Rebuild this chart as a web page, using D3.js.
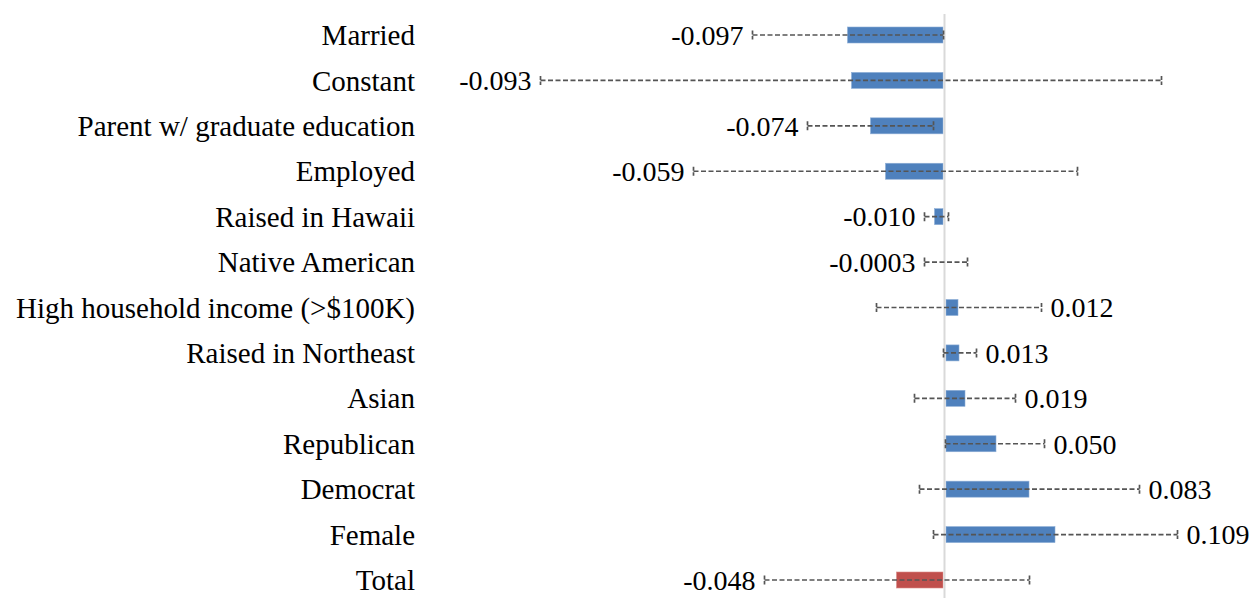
<!DOCTYPE html>
<html>
<head>
<meta charset="utf-8">
<script src="https://cdn.jsdelivr.net/npm/d3@7"></script>
<style>
  html, body { margin: 0; padding: 0; background: #fff; }
  svg { display: block; }
  text { font-family: "Liberation Serif", "Times New Roman", serif; fill: #000; }
</style>
</head>
<body>
<svg id="chart" width="1257" height="598"></svg>
<script>
// Regression coefficients with 95% confidence intervals
const categories = [
  "Married", "Constant", "Parent w/ graduate education", "Employed",
  "Raised in Hawaii", "Native American", "High household income (>$100K)",
  "Raised in Northeast", "Asian", "Republican", "Democrat", "Female", "Total"
];
const estimates = [-0.097, -0.093, -0.074, -0.059, -0.010, -0.0003, 0.012, 0.013, 0.019, 0.050, 0.083, 0.109, -0.048];
const valueLabels = ["-0.097", "-0.093", "-0.074", "-0.059", "-0.010", "-0.0003", "0.012", "0.013", "0.019", "0.050", "0.083", "0.109", "-0.048"];
const ciLower = [-0.192, -0.404, -0.137, -0.251, -0.020, -0.020, -0.068, -0.001, -0.030, 0.001, -0.025, -0.011, -0.180];
const ciUpper = [-0.001, 0.217, -0.011, 0.133, 0.004, 0.023, 0.097, 0.032, 0.071, 0.100, 0.195, 0.233, 0.085];

const rows = categories.map((c, i) => ({
  name: c, est: estimates[i], label: valueLabels[i], lo: ciLower[i], hi: ciUpper[i],
  total: c === "Total"
}));

const svg = d3.select("#chart");

const x = d3.scaleLinear().domain([-0.45, 0.30]).range([494.5, 1244.5]);
const y = d3.scalePoint().domain(categories).range([35, 580]);
const barH = 16;
const capH = 9;
const gap = 1.5; // bars stop just short of the zero line

// coefficient bars
svg.append("g").selectAll("rect")
  .data(rows).join("rect")
  .attr("x", d => d.est < 0 ? x(d.est) : x(0) + gap)
  .attr("width", d => Math.max(0, Math.abs(x(d.est) - x(0)) - (d.est < 0 ? gap : 0)))
  .attr("y", d => y(d.name) - barH / 2)
  .attr("height", barH)
  .attr("fill", d => d.total ? "#c0504d" : "#4f81bd")
  .attr("stroke", d => d.total ? "#d98a88" : "#8eaed6")
  .attr("stroke-width", 0.6);

// zero reference line
svg.append("line")
  .attr("x1", x(0)).attr("x2", x(0))
  .attr("y1", 14).attr("y2", 598)
  .attr("stroke", "#d9d9d9").attr("stroke-width", 2);

// category labels
svg.append("g").selectAll("text")
  .data(rows).join("text")
  .attr("x", 415)
  .attr("y", d => y(d.name))
  .attr("dy", "0.35em")
  .attr("text-anchor", "end")
  .attr("font-size", 29)
  .text(d => d.name);

// confidence intervals
const ci = svg.append("g")
  .attr("stroke", "#555555")
  .attr("stroke-width", 1.7)
  .attr("fill", "none");

ci.selectAll("line.span")
  .data(rows).join("line")
  .attr("class", "span")
  .attr("x1", d => x(d.lo)).attr("x2", d => x(d.hi))
  .attr("y1", d => y(d.name)).attr("y2", d => y(d.name))
  .attr("stroke-dasharray", "5,2.5");

["lo", "hi"].forEach(k => {
  ci.selectAll("line.cap-" + k)
    .data(rows).join("line")
    .attr("class", "cap-" + k)
    .attr("x1", d => x(d[k])).attr("x2", d => x(d[k]))
    .attr("y1", d => y(d.name) - capH / 2).attr("y2", d => y(d.name) + capH / 2)
    .attr("stroke-dasharray", "4,1.5");
});

// value labels beyond the interval end
svg.append("g").selectAll("text")
  .data(rows).join("text")
  .attr("x", d => d.est < 0 ? x(d.lo) - 9 : x(d.hi) + 9)
  .attr("y", d => y(d.name))
  .attr("dy", "0.35em")
  .attr("text-anchor", d => d.est < 0 ? "end" : "start")
  .attr("font-size", 28)
  .text(d => d.label);
</script>
</body>
</html>
